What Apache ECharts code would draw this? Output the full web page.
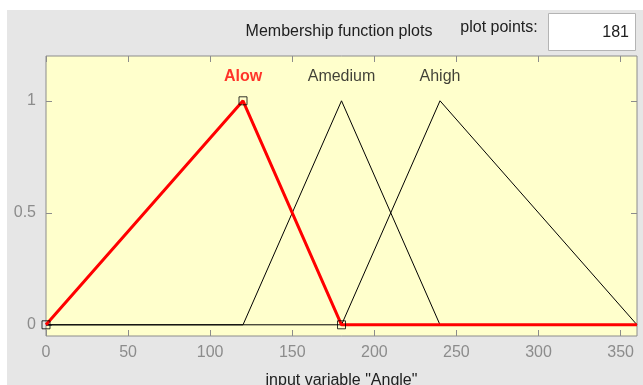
<!DOCTYPE html>
<html><head><meta charset="utf-8">
<script src="https://cdn.jsdelivr.net/npm/echarts@6/dist/echarts.min.js"></script>
<style>html,body{margin:0;padding:0;background:#fff}#c{width:643px;height:385px}</style>
</head><body><div id="c"></div>
<script>
// Membership functions of input variable "Angle"
const mfNames = ['Alow', 'Amedium', 'Ahigh'];
const mfPeaks = [120, 180, 240];
const alowX = [0, 120, 180, 360];
const alowY = [0, 1, 0, 0];
const amediumX = [0, 120, 180, 240, 360];
const amediumY = [0, 0, 1, 0, 0];
const ahighX = [0, 180, 240, 360];
const ahighY = [0, 0, 1, 0];
const alowParamsX = [0, 120, 180];
const alowParamsY = [0, 1, 0];
const xTicks = [0, 50, 100, 150, 200, 250, 300, 350];
const yTicks = [0, 0.5, 1];
const plotPoints = 181;

const FONT = 'Liberation Sans, Arial, sans-serif';
const zip = (xs, ys) => xs.map((x, i) => [x, ys[i]]);
const tick = {show: true, inside: true, length: 6, lineStyle: {color: '#8c8c8c'}};

const chart = echarts.init(document.getElementById('c'), null, {renderer: 'canvas'});
chart.setOption({
  backgroundColor: '#e6e6e6',
  animation: false,
  grid: {left: 46, top: 56, right: 6, bottom: 49, containLabel: false, outerBoundsMode: 'none',
    show: true, backgroundColor: '#ffffcc', borderColor: '#8c8c8c', borderWidth: 1},
  xAxis: [{
    type: 'value', min: 0, max: 360, position: 'bottom',
    axisLine: {show: false, onZero: false}, splitLine: {show: false},
    axisTick: Object.assign({customValues: xTicks}, tick),
    axisLabel: {color: '#8c8c8c', fontFamily: FONT, fontSize: 16, margin: 9, customValues: xTicks},
    name: 'input variable "Angle"', nameLocation: 'middle', nameGap: 37,
    nameTextStyle: {color: '#202020', fontFamily: FONT, fontSize: 16, verticalAlign: 'top'}
  }, {
    type: 'value', min: 0, max: 360, position: 'top',
    axisLine: {show: false, onZero: false}, splitLine: {show: false},
    axisTick: Object.assign({customValues: xTicks}, tick),
    axisLabel: {show: false}
  }],
  yAxis: [{
    type: 'value', min: -0.05, max: 1.2, position: 'left',
    axisLine: {show: false, onZero: false}, splitLine: {show: false},
    axisTick: Object.assign({customValues: yTicks}, tick),
    axisLabel: {color: '#8c8c8c', fontFamily: FONT, fontSize: 16, margin: 10, customValues: yTicks}
  }, {
    type: 'value', min: -0.05, max: 1.2, position: 'right',
    axisLine: {show: false, onZero: false}, splitLine: {show: false},
    axisTick: Object.assign({customValues: yTicks}, tick),
    axisLabel: {show: false}
  }],
  series: [
    {type: 'line', data: zip(amediumX, amediumY), symbol: 'none', lineStyle: {color: '#000', width: 1}, z: 2},
    {type: 'line', data: zip(ahighX, ahighY), symbol: 'none', lineStyle: {color: '#000', width: 1}, z: 2},
    {type: 'line', data: zip(alowX, alowY), symbol: 'none', lineStyle: {color: '#ff0000', width: 3}, z: 3},
    {type: 'scatter', data: zip(alowParamsX, alowParamsY), symbol: 'rect', symbolSize: 8,
     itemStyle: {color: 'rgba(0,0,0,0)', borderColor: '#000', borderWidth: 1}, z: 4},
    {type: 'scatter', data: mfPeaks.map((p, i) => ({value: [p, 1.107], name: mfNames[i],
      label: {color: i === 0 ? '#ff0000' : '#101010', fontWeight: i === 0 ? 'bold' : 'normal'}})),
     symbolSize: 0, z: 5,
     label: {show: true, position: 'inside', formatter: '{b}', fontFamily: FONT, fontSize: 16}}
  ],
  graphic: [
    {type: 'rect', shape: {x: 0, y: 0, width: 643, height: 10}, style: {fill: '#fff'}},
    {type: 'rect', shape: {x: 0, y: 0, width: 7, height: 385}, style: {fill: '#fff'}},
    {type: 'text', x: 339, y: 32, style: {text: 'Membership function plots', fill: '#202020', font: '16px ' + FONT, align: 'center', verticalAlign: 'middle'}},
    {type: 'text', x: 499, y: 28, style: {text: 'plot points:', fill: '#202020', font: '16px ' + FONT, align: 'center', verticalAlign: 'middle'}},
    {type: 'rect', shape: {x: 548.5, y: 13.5, width: 87, height: 37}, style: {fill: '#fff', stroke: '#b4b4b4', lineWidth: 1}},
    {type: 'text', x: 629, y: 33, style: {text: String(plotPoints), fill: '#202020', font: '16px ' + FONT, align: 'right', verticalAlign: 'middle'}}
  ]
});
</script></body></html>
